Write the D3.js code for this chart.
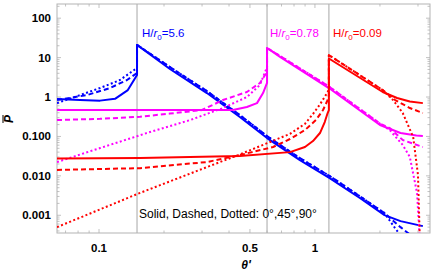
<!DOCTYPE html>
<html><head><meta charset="utf-8">
<script src="https://cdn.jsdelivr.net/npm/d3@7"></script>
<style>body{margin:0;background:#fff;}svg{display:block;}</style>
</head><body>
<script>
// Source angles (vertical guide lines)
const sourceAngles = [0.15, 0.60, 1.16];
const xTickLabels = [0.1, 0.5, 1];
const yTickValues = [100, 10, 1, 0.1, 0.01, 0.001];
const yTickLabels = ["100", "10", "1", "0.100", "0.010", "0.001"];
const curveLabels = ["5.6", "0.78", "0.09"];
const colors = ["#0000ff", "#ff00ff", "#ff0000"];

// H/r0 = 5.6 (blue)
const blueSolid = [[0.0639,0.89],[0.0817,0.84],[0.1011,0.81],[0.1186,0.9],[0.136,1.5],[0.15,3.6],[0.15,21],[0.213,5.13],[0.316,1.26],[0.449,0.311],[0.6,0.091],[0.852,0.025],[1.17,0.0088],[1.62,0.0027],[2.1,0.00101],[2.49,0.00071],[3.16,0.00053]];
const blueDashed = [[0.0639,0.84],[0.088,1.12],[0.1124,1.69],[0.1348,2.7],[0.15,4.06],[0.15,21],[0.213,5.75],[0.316,1.41],[0.449,0.348],[0.6,0.102],[0.852,0.028],[1.17,0.0099],[1.62,0.003],[2.1,0.00113],[2.49,0.0005],[2.85,0.00028]];
const blueDotted = [[0.0639,0.70],[0.0817,1.12],[0.1011,1.69],[0.125,2.7],[0.15,5.45],[0.15,21],[0.213,5.75],[0.316,1.41],[0.449,0.348],[0.6,0.102],[0.852,0.028],[1.17,0.0099],[1.62,0.003],[2.1,0.00113],[2.35,0.00047],[2.53,0.00028]];

// H/r0 = 0.78 (magenta)
const magentaSolid = [[0.0639,0.468],[0.417,0.468],[0.484,0.557],[0.539,0.70],[0.575,1.26],[0.6,2.27],[0.6,17.5],[0.689,10.4],[1.16,1.69],[2.0,0.195],[2.49,0.122],[2.95,0.105],[3.16,0.1025]];
const magentaDashed = [[0.0639,0.26],[0.1011,0.28],[0.155,0.316],[0.213,0.38],[0.3,0.468],[0.375,0.84],[0.484,1.34],[0.556,2.27],[0.6,4.3],[0.6,17.5],[0.689,11],[1.16,1.85],[2.0,0.212],[2.22,0.163],[2.55,0.081],[3.16,0.054]];
const magentaDotted = [[0.0639,0.0224],[0.1011,0.0507],[0.172,0.129],[0.264,0.26],[0.375,0.525],[0.484,1.0],[0.556,2.02],[0.6,5.77],[0.6,17.5],[0.689,11],[1.16,1.85],[2.0,0.212],[2.22,0.145],[2.55,0.0606],[2.75,0.03],[2.97,0.0037],[3.06,0.00023]];

// H/r0 = 0.09 (red)
const redSolid = [[0.0639,0.0275],[0.155,0.0283],[0.449,0.0318],[0.766,0.040],[0.899,0.054],[0.979,0.0764],[1.055,0.122],[1.11,0.232],[1.145,0.393],[1.16,0.468],[1.16,9.5],[2.06,1.34],[2.4,0.943],[2.75,0.77],[3.16,0.70]];
const redDashed = [[0.0639,0.0141],[0.155,0.0157],[0.316,0.0224],[0.449,0.0337],[0.64,0.054],[0.766,0.086],[0.899,0.145],[1.01,0.26],[1.09,0.468],[1.145,0.84],[1.16,1.12],[1.16,11.6],[2.06,1.5],[2.35,0.84],[2.75,0.525],[3.16,0.393]];
const redDotted = [[0.0639,0.0005],[0.155,0.0037],[0.449,0.035],[0.766,0.116],[0.899,0.209],[0.979,0.37],[1.055,0.65],[1.145,1.34],[1.16,1.6],[1.16,11.6],[2.06,1.5],[2.30,0.84],[2.55,0.393],[2.85,0.097],[3.0,0.0105],[3.06,0.00023]];

const series = [
  {data: blueSolid, color: colors[0], dash: null},
  {data: blueDashed, color: colors[0], dash: "5,3"},
  {data: blueDotted, color: colors[0], dash: "2,2.4"},
  {data: magentaSolid, color: colors[1], dash: null},
  {data: magentaDashed, color: colors[1], dash: "5,3"},
  {data: magentaDotted, color: colors[1], dash: "2,2.4"},
  {data: redSolid, color: colors[2], dash: null},
  {data: redDashed, color: colors[2], dash: "5,3"},
  {data: redDotted, color: colors[2], dash: "2,2.4"}
];

const W = 436, H = 274;
const L = 57, R = 430, T = 4, B = 233;
const svg = d3.select("body").append("svg").attr("width", W).attr("height", H);

const x = d3.scaleLog().domain([0.0639, 3.41]).range([L, R]);
const y = d3.scaleLog().domain([229, 0.000355]).range([T, B]);

svg.append("clipPath").attr("id","clip").append("rect")
  .attr("x", L).attr("y", T).attr("width", R-L).attr("height", B-T);

// vertical source lines
svg.selectAll("line.src").data(sourceAngles).enter().append("line")
  .attr("x1", d=>x(d)).attr("x2", d=>x(d)).attr("y1", T).attr("y2", B)
  .attr("stroke", "#c4c4c4").attr("stroke-width", 1.5);

// frame
svg.append("rect").attr("x", L).attr("y", T).attr("width", R-L).attr("height", B-T)
  .attr("fill","none").attr("stroke","#b3b3b3").attr("stroke-width",1);

// ticks
const tickG = svg.append("g").attr("stroke","#b3b3b3").attr("stroke-width",0.8);
const xMinor = [];
for (let e=-2; e<=0; e++) for (let m=1; m<=9; m++) { const v=m*Math.pow(10,e); if (v>=0.0639 && v<=3.41) xMinor.push(v); }
xMinor.forEach(v=>{
  const major = xTickLabels.includes(+v.toPrecision(3));
  const len = major ? 4 : 2.5;
  tickG.append("line").attr("x1",x(v)).attr("x2",x(v)).attr("y1",B).attr("y2",B-len);
  tickG.append("line").attr("x1",x(v)).attr("x2",x(v)).attr("y1",T).attr("y2",T+len);
});
const yMinor = [];
for (let e=-4; e<=2; e++) for (let m=1; m<=9; m++) { const v=m*Math.pow(10,e); if (v>=0.000355 && v<=229) yMinor.push({v, major:m===1}); }
yMinor.forEach(d=>{
  const len = d.major ? 4 : 2.5;
  tickG.append("line").attr("x1",L).attr("x2",L+len).attr("y1",y(d.v)).attr("y2",y(d.v));
  tickG.append("line").attr("x1",R).attr("x2",R-len).attr("y1",y(d.v)).attr("y2",y(d.v));
});

// tick labels
svg.selectAll("text.xt").data(xTickLabels).enter().append("text")
  .attr("x", d=>x(d)).attr("y", B+19).attr("text-anchor","middle")
  .attr("font-family","Liberation Sans, Arial, sans-serif").attr("font-weight","bold").attr("font-size",11.5)
  .text(d=>d);
svg.selectAll("text.yt").data(yTickValues).enter().append("text")
  .attr("x", L-6).attr("y", d=>y(d)+4).attr("text-anchor","end")
  .attr("font-family","Liberation Sans, Arial, sans-serif").attr("font-weight","bold").attr("font-size",11.5)
  .text((d,i)=>yTickLabels[i]);

// curves
const line = d3.line().x(d=>x(d[0])).y(d=>y(d[1]));
const cg = svg.append("g").attr("clip-path","url(#clip)");
series.forEach(s=>{
  cg.append("path").attr("d", line(s.data)).attr("fill","none")
    .attr("stroke", s.color).attr("stroke-width", 2)
    .attr("stroke-linejoin","round")
    .attr("stroke-dasharray", s.dash);
});

// curve labels
const labelPos = [[142, 37], [270, 37], [333, 37]];
curveLabels.forEach((lab,i)=>{
  const t = svg.append("text").attr("x", labelPos[i][0]).attr("y", labelPos[i][1])
    .attr("font-family","Liberation Sans, Arial, sans-serif").attr("font-size",11.5).attr("fill", colors[i]);
  t.append("tspan").text("H/");
  t.append("tspan").attr("font-style","italic").text("r");
  t.append("tspan").attr("font-size",8).attr("dy",3).text("0");
  t.append("tspan").attr("dy",-3).text("=" + lab);
});

// note
svg.append("text").attr("x",139).attr("y",218)
  .attr("font-family","Liberation Sans, Arial, sans-serif").attr("font-size",12)
  .text("Solid, Dashed, Dotted: 0°,45°,90°");

// axis labels
svg.append("text").attr("x", 246).attr("y", 269).attr("text-anchor","middle")
  .attr("font-family","Liberation Sans, Arial, sans-serif").attr("font-weight","bold").attr("font-style","italic").attr("font-size",12)
  .text("θ'");
const yl = svg.append("text").attr("transform","translate(13,119) rotate(-90)").attr("text-anchor","middle")
  .attr("font-family","Liberation Sans, Arial, sans-serif").attr("font-weight","bold").attr("font-style","italic").attr("font-size",12)
  .text("P");
svg.append("line").attr("x1",3).attr("x2",3).attr("y1",115).attr("y2",123).attr("stroke","#000").attr("stroke-width",1);
</script>
</body></html>
